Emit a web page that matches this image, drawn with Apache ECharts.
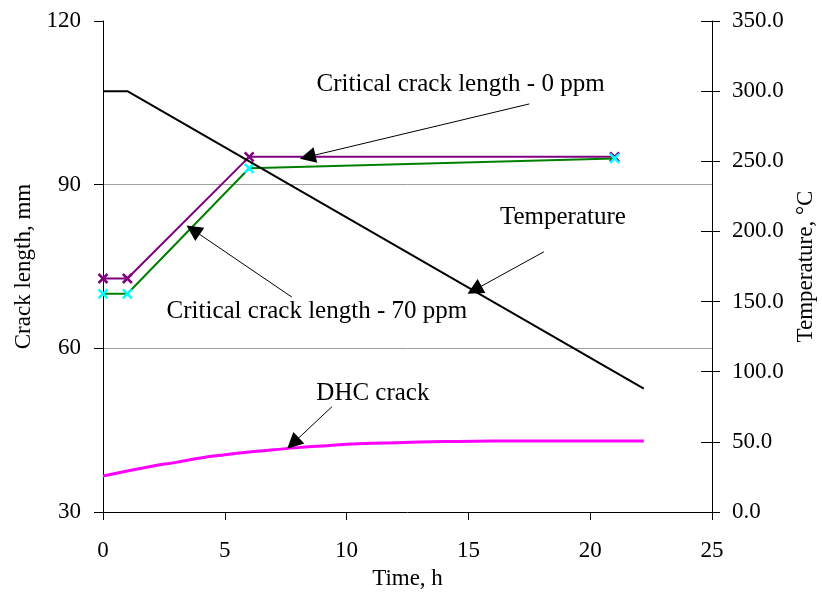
<!DOCTYPE html>
<html>
<head>
    <meta charset="utf-8">
    <title>Crack length</title>
    <script type="text/javascript" src="https://cdn.jsdelivr.net/npm/echarts@6/dist/echarts.min.js"></script>
</head>
<body style="margin:0">
	<div id="main" style="height:603px; width:822px;"></div>
	<script type="text/javascript">
	// data
	var crit0Time = [0, 1, 6, 21];
	var crit0Len = [72.8, 72.8, 95.1, 95.1];
	var crit70Time = [0, 1, 6, 21];
	var crit70Len = [70.0, 70.0, 93.0, 94.8];
	var dhcTime = [0, 1, 2, 3, 4, 5, 6, 7, 8, 9, 10, 12, 14, 16, 18, 20, 22.2];
	var dhcLen = [36.6, 37.5, 38.4, 39.1, 39.9, 40.5, 41.0, 41.4, 41.8, 42.1, 42.4, 42.7, 42.9, 43.0, 43.0, 43.0, 43.0];
	var tempTime = [0, 1, 22.2];
	var tempVal = [300, 300, 88];

	// annotation texts and arrows, in data units of the left axis
	var noteText = ['Critical crack length - 0 ppm', 'Temperature', 'Critical crack length - 70 ppm', 'DHC crack'];
	var notePos = [[14.7, 108.3], [18.9, 83.9], [8.8, 66.7], [11.1, 51.6]];
	var arrowFrom = [[17.5, 104.8], [18.1, 77.7], [7.75, 69.4], [9.4, 49.3]];
	var arrowTo = [[8.4, 95.1], [15.25, 70.7], [3.7, 81.7], [7.8, 42.6]];

	function pairs(xs, ys) {
		return xs.map(function (x, i) { return [x, ys[i]]; });
	}

	var font = 'Liberation Serif';
	var xMark = 'path://M0,0L10,10M10,0L0,10';
	var myChart = echarts.init(document.getElementById('main'));

	var option = {
		backgroundColor: '#fff',
		animation: false,
		textStyle: {fontFamily: font, color: '#000'},
		grid: {left: 103, right: 110, top: 21, bottom: 91, outerBoundsMode: 'none'},
		xAxis: {
			type: 'value', min: 0, max: 25, interval: 5,
			name: 'Time, h', nameLocation: 'middle', nameGap: 55,
			nameTextStyle: {fontSize: 23, fontFamily: font, color: '#000'},
			axisLine: {lineStyle: {color: '#000', width: 1}},
			axisTick: {length: 8, lineStyle: {color: '#000'}},
			axisLabel: {fontSize: 23, fontFamily: font, color: '#000', margin: 27},
			splitLine: {show: false}
		},
		yAxis: [
			{
				type: 'value', min: 30, max: 120, interval: 30, position: 'left',
				name: 'Crack length, mm', nameLocation: 'middle', nameGap: 68,
				nameTextStyle: {fontSize: 23, fontFamily: font, color: '#000'},
				axisLine: {show: true, lineStyle: {color: '#000', width: 1}},
				axisTick: {show: true, length: 9, lineStyle: {color: '#000'}},
				axisLabel: {fontSize: 23, fontFamily: font, color: '#000', margin: 22},
				splitLine: {show: true, showMinLine: false, showMaxLine: false, lineStyle: {color: '#a0a0a0', width: 1}}
			},
			{
				type: 'value', min: 0, max: 350, interval: 50, position: 'right',
				name: 'Temperature, °C', nameLocation: 'middle', nameGap: 71,
				nameTextStyle: {fontSize: 23, fontFamily: font, color: '#000'},
				axisLine: {show: true, lineStyle: {color: '#000', width: 1}},
				axisTick: {show: true, length: 8, lineStyle: {color: '#000'}},
				axisLabel: {fontSize: 23, fontFamily: font, color: '#000', margin: 20,
					formatter: function (v) { return v.toFixed(1); }},
				splitLine: {show: false}
			},
			{
				type: 'value', min: 0, max: 350, interval: 50, position: 'right',
				axisLine: {show: false},
				axisTick: {show: true, inside: true, length: 11, lineStyle: {color: '#000'}},
				axisLabel: {show: false},
				splitLine: {show: false}
			}
		],
		series: [
			{
				type: 'line', yAxisIndex: 0, data: pairs(crit0Time, crit0Len),
				symbol: xMark, symbolSize: 9, showSymbol: true,
				lineStyle: {color: '#800080', width: 2},
				itemStyle: {color: '#800080', borderColor: '#800080', borderWidth: 2.5},
				z: 2
			},
			{
				type: 'line', yAxisIndex: 0, data: pairs(crit70Time, crit70Len),
				symbol: xMark, symbolSize: 9, showSymbol: true,
				lineStyle: {color: '#008000', width: 2},
				itemStyle: {color: '#00ffff', borderColor: '#00ffff', borderWidth: 2.5},
				z: 3
			},
			{
				type: 'line', yAxisIndex: 0, data: pairs(dhcTime, dhcLen),
				showSymbol: false, smooth: true,
				lineStyle: {color: '#ff00ff', width: 3},
				z: 2
			},
			{
				type: 'line', yAxisIndex: 1, data: pairs(tempTime, tempVal),
				showSymbol: false,
				lineStyle: {color: '#000', width: 2},
				z: 4
			},
			{
				type: 'scatter', yAxisIndex: 0, symbolSize: 1, silent: true,
				itemStyle: {color: 'rgba(0,0,0,0)', opacity: 1},
				data: noteText.map(function (t, i) { return {name: t, value: notePos[i]}; }),
				label: {show: true, position: [0, 0], align: 'center', verticalAlign: 'middle',
					formatter: '{b}', fontSize: 25, fontFamily: font, color: '#000', opacity: 1},
				markLine: {
					silent: true, symbol: ['none', 'triangle'], symbolSize: 16,
					label: {show: false},
					lineStyle: {type: 'solid', color: '#000', width: 1, opacity: 1},
					itemStyle: {color: '#000', opacity: 1},
					data: arrowFrom.map(function (a, i) {
						return [{coord: a}, {coord: arrowTo[i]}];
					})
				},
				z: 5
			}
		]
	};
	myChart.setOption(option);
	</script>
</body>
</html>
